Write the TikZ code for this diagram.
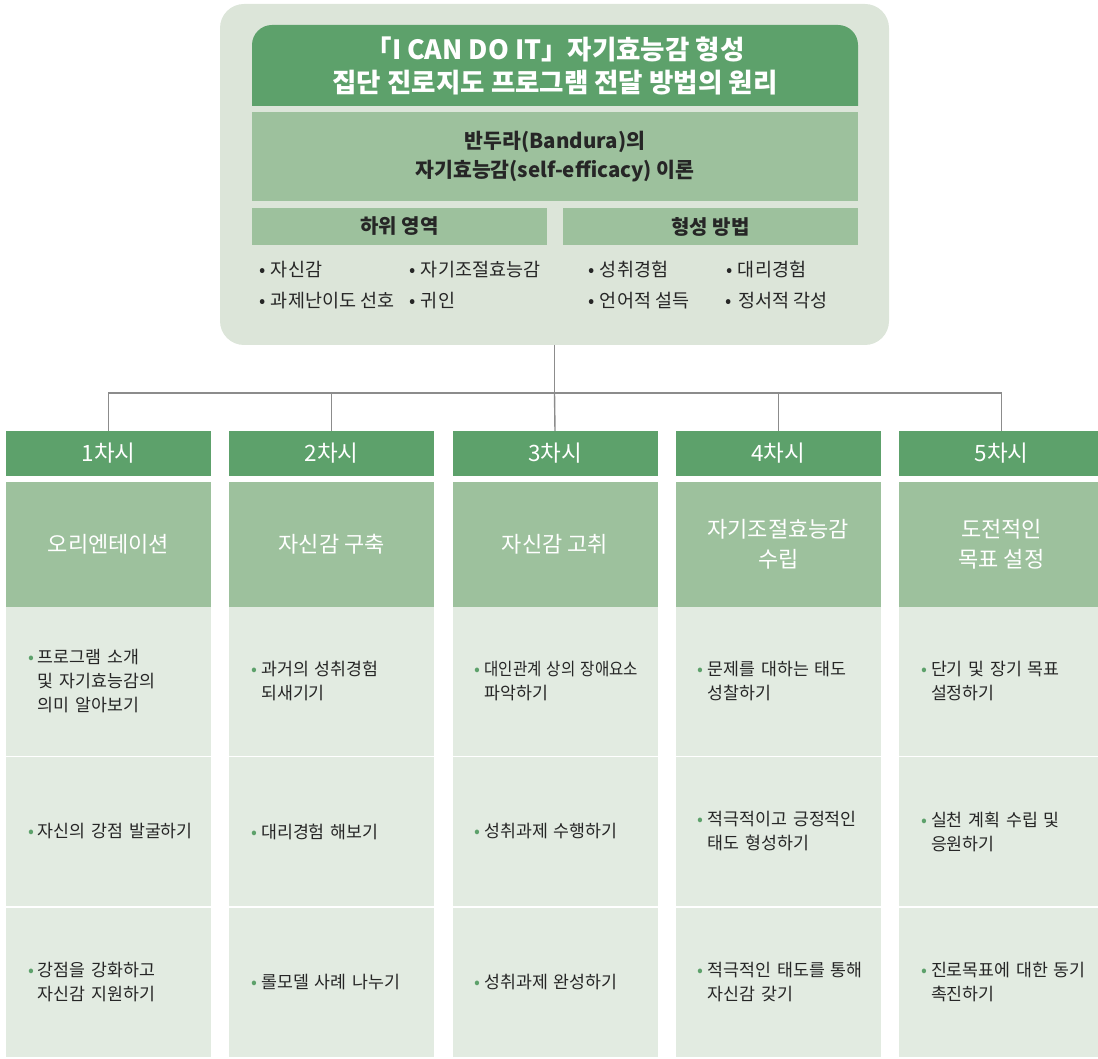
\documentclass[tikz,border=0pt]{standalone}
\usepackage{fontspec}
\usepackage{graphicx}
\setmainfont{Noto Sans CJK KR}
\usetikzlibrary{positioning,backgrounds}
\definecolor{dkgreen}{HTML}{5DA16B}
\definecolor{mdgreen}{HTML}{9DC19D}
\definecolor{ltgreen}{HTML}{E2EBE1}
\definecolor{panelbg}{HTML}{DCE5D9}
\definecolor{txtgray}{HTML}{262626}
\definecolor{linegray}{HTML}{8C8C8C}
\newcommand\gdot{\makebox[10pt][l]{\textcolor{dkgreen}{\textbullet}}}
\newcommand\pdot{\makebox[12pt][l]{\textbullet}}
\newcommand\firstl[1]{\hspace*{22pt}\gdot\mbox{#1}}
\newcommand\nextl[1]{\hspace*{32pt}\mbox{#1}}
\tikzset{
	chart/.style={x=1pt,y=-1pt,inner sep=0pt,outer sep=0pt},
	panel/.style={fill=panelbg,rounded corners=24pt,minimum width=669pt,minimum height=341pt},
	heading/.style={text=white,font=\bfseries\fontsize{26.5}{33}\selectfont,align=center,
		minimum width=606pt,minimum height=81pt},
	theory/.style={fill=mdgreen,text=txtgray,font=\bfseries\fontsize{20.5}{29}\selectfont,
		align=center,minimum width=606pt,minimum height=89pt},
	subhead/.style={fill=mdgreen,text=txtgray,font=\bfseries\fontsize{20}{22}\selectfont,
		minimum width=295pt,minimum height=37pt},
	itemlist/.style={text=txtgray,font=\fontsize{18.5}{31}\selectfont},
	session/.style={fill=dkgreen,text=white,font=\fontsize{22.5}{26}\selectfont,
		minimum width=205pt,minimum height=45pt},
	topic/.style={fill=mdgreen,text=white,font=\fontsize{22}{30}\selectfont,align=center,
		minimum width=205pt,minimum height=125pt},
	task/.style={fill=ltgreen,text=txtgray,font=\fontsize{17.3}{24}\selectfont,align=left,
		text width=205pt,minimum height=149pt},
	link/.style={draw=linegray,line width=1.4pt}
}

\begin{document}
\begin{tikzpicture}[chart]
\useasboundingbox (0,0) rectangle (1098,1059);

\begin{scope}[on background layer]
\node[panel] (panel) at (554.5,174.5) {};
\end{scope}
\node[heading] (heading) at (555,65.5) {「I CAN DO IT」자기효능감 형성\\집단 진로지도 프로그램 전달 방법의 원리};
\begin{scope}[on background layer]
\fill[dkgreen] (heading.south west) [rounded corners=20pt] -- (heading.north west)
	-- (heading.north east) [sharp corners] -- (heading.south east) -- cycle;
\end{scope}
\node[theory, below=6pt of heading] (theory) {반두라(Bandura)의\\자기효능감(self-efficacy) 이론};
\node[subhead, below right=7pt and 0pt of theory.south west] (domain) {하위 영역};
\node[subhead, below left=7pt and 0pt of theory.south east] (method) {형성 방법};
\node[itemlist, below right=10pt and 7pt of domain.south west] (domainlist)
	{\begin{tabular}{@{}p{150pt}@{}l@{}}\pdot 자신감 & \pdot 자기조절효능감\\
	\pdot 과제난이도 선호 & \pdot 귀인\end{tabular}};
\node[itemlist, below right=10pt and 25pt of method.south west] (methodlist)
	{\begin{tabular}{@{}p{138pt}@{}l@{}}\pdot 성취경험 & \pdot 대리경험\\
	\pdot 언어적 설득 & \pdot 정서적 각성\end{tabular}};

\node[session] (s1) at (108.5,453.5) {1차시};
\node[session, right=18.25pt of s1] (s2) {2차시};
\node[session, right=18.25pt of s2] (s3) {3차시};
\node[session, right=18.25pt of s3] (s4) {4차시};
\node[session, right=18.25pt of s4] (s5) {5차시};

\node[topic, below=5.5pt of s1] (t1) {오리엔테이션};
\node[topic, below=5.5pt of s2] (t2) {자신감 구축};
\node[topic, below=5.5pt of s3] (t3) {자신감 고취};
\node[topic, below=5.5pt of s4] (t4) {자기조절효능감\\수립};
\node[topic, below=5.5pt of s5] (t5) {도전적인\\목표 설정};

\node[task, below=0pt of t1] (a1) {\firstl{프로그램 소개}\\\nextl{및 자기효능감의}\\\nextl{의미 알아보기}};
\node[task, below=1.5pt of a1] (b1) {\firstl{자신의 강점 발굴하기}};
\node[task, below=1.5pt of b1] (c1) {\firstl{강점을 강화하고}\\\nextl{자신감 지원하기}};

\node[task, below=0pt of t2] (a2) {\firstl{과거의 성취경험}\\\nextl{되새기기}};
\node[task, below=1.5pt of a2] (b2) {\firstl{대리경험 해보기}};
\node[task, below=1.5pt of b2] (c2) {\firstl{롤모델 사례 나누기}};

\node[task, below=0pt of t3] (a3) {\firstl{\scalebox{0.9}[1]{대인관계 상의 장애요소}}\\\nextl{파악하기}};
\node[task, below=1.5pt of a3] (b3) {\firstl{성취과제 수행하기}};
\node[task, below=1.5pt of b3] (c3) {\firstl{성취과제 완성하기}};

\node[task, below=0pt of t4] (a4) {\firstl{문제를 대하는 태도}\\\nextl{성찰하기}};
\node[task, below=1.5pt of a4] (b4) {\firstl{적극적이고 긍정적인}\\\nextl{태도 형성하기}};
\node[task, below=1.5pt of b4] (c4) {\firstl{적극적인 태도를 통해}\\\nextl{자신감 갖기}};

\node[task, below=0pt of t5] (a5) {\firstl{단기 및 장기 목표}\\\nextl{설정하기}};
\node[task, below=1.5pt of a5] (b5) {\firstl{실천 계획 수립 및}\\\nextl{응원하기}};
\node[task, below=1.5pt of b5] (c5) {\firstl{진로목표에 대한 동기}\\\nextl{촉진하기}};

\coordinate (bus) at (554.5,393);
\draw[link] (panel.south) -- (bus);
\draw[link] (bus) -| (s1.north);
\draw[link] (bus) -| (s2.north);
\draw[link] (bus) -- (s3.north);
\draw[link] (bus) -| (s4.north);
\draw[link] (bus) -| (s5.north);
\end{tikzpicture}
\end{document}
